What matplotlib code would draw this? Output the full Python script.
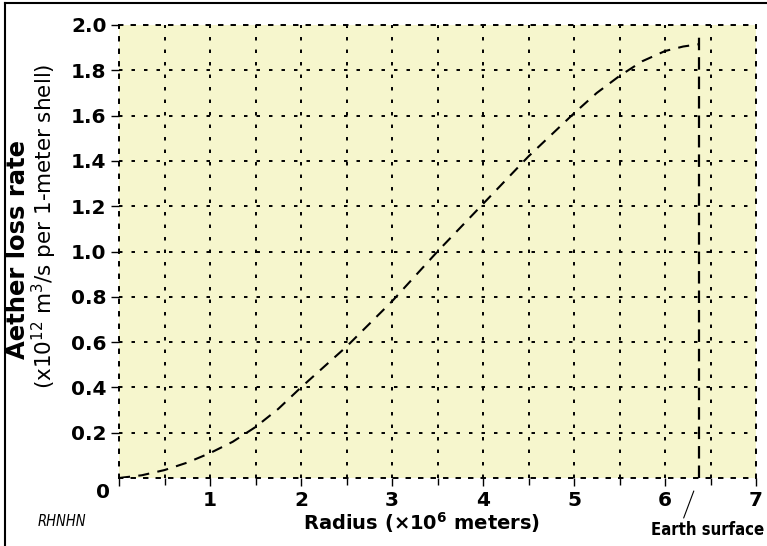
import numpy as np
import matplotlib
matplotlib.use("Agg")
import matplotlib.pyplot as plt
from matplotlib.lines import Line2D

# radius (x10^6 m) and aether loss rate (x10^12 m^3/s per 1-m shell)
radius = [0.0, 0.25, 0.5, 0.75, 1.0, 1.25, 1.5, 1.75, 2.0, 2.5, 3.0, 3.5, 4.0, 4.5, 5.0, 5.25, 5.5, 5.75, 6.0, 6.2, 6.37]
loss_rate = [0.0, 0.012, 0.035, 0.068, 0.11, 0.16, 0.225, 0.305, 0.40, 0.58, 0.78, 1.00, 1.21, 1.42, 1.61, 1.70, 1.775, 1.84, 1.885, 1.905, 1.915]

earth_r = 6.37
earth_top = 1.96

x_ticks = [0, 1, 2, 3, 4, 5, 6, 7]
x_ticklabels = ['', '1', '2', '3', '4', '5', '6', '7']
y_ticks = [0.2, 0.4, 0.6, 0.8, 1.0, 1.2, 1.4, 1.6, 1.8, 2.0]

plt.rcParams['font.family'] = 'DejaVu Sans'
plt.rcParams['mathtext.default'] = 'regular'
plt.rcParams['lines.scale_dashes'] = False

fig = plt.figure(figsize=(7.67, 5.46), dpi=100)
ax = fig.add_axes([119/767, 68/546, 637/767, 453/546])
ax.set_facecolor('#f6f6cd')

dotted = (0, (2.5, 6.5))
ax.set_xlim(0, 7)
ax.set_ylim(0, 2.0)
ax.set_xticks(x_ticks)
ax.set_xticklabels(x_ticklabels)
ax.set_xticks(np.arange(0.5, 7, 1.0), minor=True)
ax.set_yticks(y_ticks)
ax.set_yticklabels([f"{v:.1f}" for v in y_ticks])

for lab in ax.get_xticklabels() + ax.get_yticklabels():
	lab.set_fontweight('bold')
	lab.set_fontsize(14.5)

ax.tick_params(axis='x', which='major', length=6, width=1, pad=3)
ax.tick_params(axis='x', which='minor', length=5, width=1)
ax.tick_params(axis='y', which='major', length=6, width=1, pad=3)

ax.grid(True, which='both', axis='x', color='black', linestyle=dotted, linewidth=1.4)
ax.grid(True, which='major', axis='y', color='black', linestyle=dotted, linewidth=1.4)
for s in ax.spines.values():
	s.set_linestyle(dotted)
	s.set_linewidth(1.4)

#SD the curve and the earth surface marker
ax.plot(radius, loss_rate, color='black', linestyle=(0, (8, 6)), linewidth=1.5, zorder=3)
ax.plot([earth_r, earth_r], [0, earth_top], color='black', linestyle=(0, (9, 5)), linewidth=1.6, zorder=3)

ax.annotate('', xy=(earth_r, 0), xycoords='data', xytext=(-15, -40), textcoords='offset pixels',
	arrowprops=dict(arrowstyle='-', color='black', lw=0.8, shrinkA=0, shrinkB=10))
ax.annotate('Earth surface', xy=(earth_r, 0), xycoords='data', xytext=(9, -52), textcoords='offset pixels',
	ha='center', va='center', fontsize=12, fontweight='bold', fontstretch='condensed',
	annotation_clip=False)

fig.text(103/767, 1 - 493/546, '0', ha='center', va='center', fontsize=14.5, fontweight='bold')

fig.text(18/767, 1 - 250/546, 'Aether loss rate', rotation=90, ha='center', va='center',
	fontsize=17.5, fontweight='bold')
fig.text(44/767, 1 - 226/546, '(x10$^{12}$ m$^{3}$/s per 1-meter shell)', rotation=90,
	ha='center', va='center', fontsize=15.5)
fig.text(422/767, 1 - 523/546, 'Radius (×10$^{6}$ meters)', ha='center', va='center',
	fontsize=14, fontweight='bold')

fig.text(62/767, 1 - 522/546, 'RHNHN', ha='center', va='center', fontsize=10.5, style='italic',
	fontstretch='condensed')

#SD border on top and left of the figure
fig.add_artist(Line2D([5/767, 1], [1 - 3/546, 1 - 3/546], color='black', lw=1.5, transform=fig.transFigure))
fig.add_artist(Line2D([5/767, 5/767], [0, 1 - 3/546], color='black', lw=1.5, transform=fig.transFigure))

fig.savefig('out.png', dpi=100)
